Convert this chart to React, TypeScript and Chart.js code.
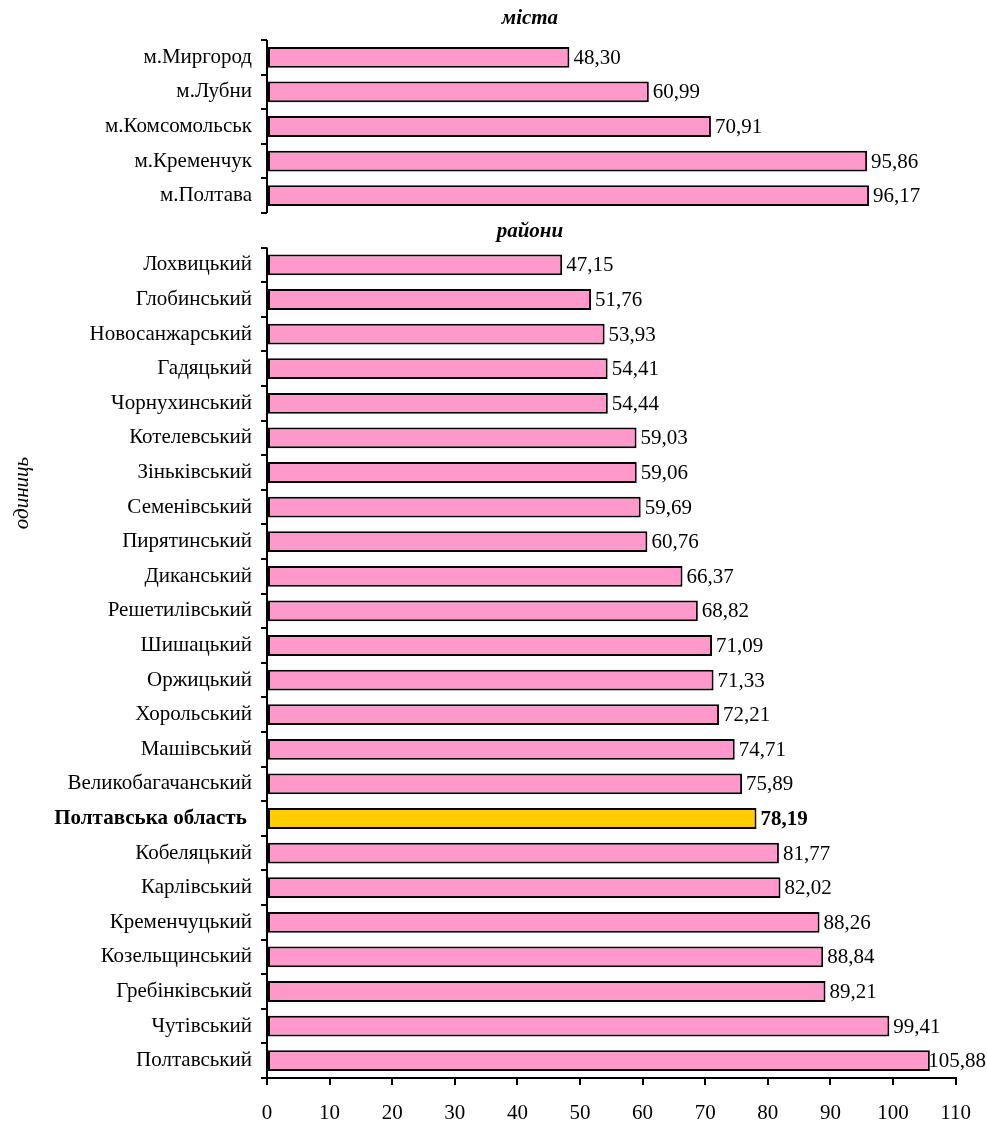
import React, { useEffect, useRef } from "react";
import { Chart, registerables } from "chart.js";

Chart.register(...registerables);

const cityLabels = ["м.Миргород", "м.Лубни", "м.Комсомольськ", "м.Кременчук", "м.Полтава"];
const cityValues = [48.3, 60.99, 70.91, 95.86, 96.17];

const districtLabels = [
  "Лохвицький", "Глобинський", "Новосанжарський", "Гадяцький", "Чорнухинський",
  "Котелевський", "Зіньківський", "Семенівський", "Пирятинський", "Диканський",
  "Решетилівський", "Шишацький", "Оржицький", "Хорольський", "Машівський",
  "Великобагачанський", "Полтавська область ", "Кобеляцький", "Карлівський",
  "Кременчуцький", "Козельщинський", "Гребінківський", "Чутівський", "Полтавський",
];
const districtValues = [
  47.15, 51.76, 53.93, 54.41, 54.44, 59.03, 59.06, 59.69, 60.76, 66.37,
  68.82, 71.09, 71.33, 72.21, 74.71, 75.89, 78.19, 81.77, 82.02, 88.26,
  88.84, 89.21, 99.41, 105.88,
];

const sectionTitles = ["міста", "райони"];
const axisTitle = "одиниць";
const highlightLabel = "Полтавська область ";
const xTicks = [0, 110, 10];

const FONT = "'Liberation Serif', 'Times New Roman', serif";
const FS = 21;
const PINK = "#FF99CC";
const GOLD = "#FFCC00";

export default function App() {
  const ref = useRef<HTMLCanvasElement | null>(null);
  useEffect(() => {
    const labels = [...cityLabels, "", ...districtLabels];
    const values: (number | null)[] = [...cityValues, null, ...districtValues];
    const colors = labels.map((l) => (l === highlightLabel ? GOLD : PINK));
    const gapIndex = cityLabels.length;

    const overlay = {
      id: "overlay",
      afterDatasetsDraw(chart: any) {
        const ctx = chart.ctx;
        const y = chart.scales.y;
        const x = chart.scales.x;
        const slot = y.getPixelForValue(1) - y.getPixelForValue(0);
        const left = chart.chartArea.left;
        ctx.save();
        ctx.strokeStyle = "#000";
        ctx.lineWidth = 2;
        const top1 = y.getPixelForValue(0) - slot / 2;
        const bot1 = y.getPixelForValue(gapIndex - 1) + slot / 2;
        const top2 = y.getPixelForValue(gapIndex + 1) - slot / 2;
        const bot2 = y.getPixelForValue(labels.length - 1) + slot / 2;
        ctx.beginPath();
        ctx.moveTo(left, top1);
        ctx.lineTo(left, bot1);
        ctx.moveTo(left, top2);
        ctx.lineTo(left, bot2);
        ctx.stroke();
        const meta = chart.getDatasetMeta(0);
        ctx.fillStyle = "#000";
        ctx.textBaseline = "middle";
        ctx.textAlign = "left";
        meta.data.forEach((bar: any, i: number) => {
          const v = values[i];
          if (v == null) return;
          const bold = labels[i] === highlightLabel;
          ctx.font = `${bold ? "bold " : ""}${FS}px ${FONT}`;
          const txt = v.toFixed(2).replace(".", ",");
          const w = ctx.measureText(txt).width;
          const tx = Math.min(bar.x + 4, chart.width - 1 - w);
          ctx.fillText(txt, tx, bar.y + 1);
        });
        ctx.font = `bold italic ${FS}px ${FONT}`;
        ctx.textAlign = "center";
        const cx = x.getPixelForValue(42);
        ctx.fillText(sectionTitles[0], cx, y.getPixelForValue(0) - slot - 4);
        ctx.fillText(sectionTitles[1], cx, y.getPixelForValue(gapIndex) + 1);
        ctx.font = `italic ${FS}px ${FONT}`;
        ctx.translate(22, 493);
        ctx.rotate(-Math.PI / 2);
        ctx.fillText(axisTitle, 0, 0);
        ctx.restore();
      },
    };

    const chart = new Chart(ref.current as HTMLCanvasElement, {
      type: "bar",
      data: {
        labels,
        datasets: [
          {
            data: values,
            backgroundColor: colors,
            borderColor: "#000",
            borderWidth: 2,
            borderSkipped: false,
            barPercentage: 0.6,
            categoryPercentage: 1,
          },
        ],
      },
      options: {
        indexAxis: "y",
        animation: false,
        responsive: true,
        maintainAspectRatio: false,
        layout: { padding: { top: 40, right: 29, left: 0, bottom: 0 } },
        plugins: { legend: { display: false }, tooltip: { enabled: false } },
        scales: {
          x: {
            min: xTicks[0],
            max: xTicks[1],
            ticks: {
              stepSize: xTicks[2],
              color: "#000",
              font: { family: FONT, size: FS },
              padding: 16,
              maxRotation: 0,
            },
            grid: {
              drawOnChartArea: false,
              drawTicks: true,
              tickLength: 7,
              color: "#000",
              lineWidth: 2,
            },
            border: { display: true, color: "#000", width: 2 },
            afterFit: (s: any) => {
              s.height = 45;
            },
          },
          y: {
            ticks: {
              color: "#000",
              font: (c: any) => ({
                family: FONT,
                size: FS,
                weight: labels[c.index] === highlightLabel ? "bold" : "normal",
              }),
              padding: 9,
              autoSkip: false,
            },
            grid: {
              offset: true,
              drawOnChartArea: false,
              drawTicks: true,
              tickLength: 6,
              color: "#000",
              lineWidth: 2,
            },
            border: { display: false },
            afterFit: (s: any) => {
              s.width = 267;
            },
          },
        },
      },
      plugins: [overlay],
    });
    return () => chart.destroy();
  }, []);

  return (
    <div style={{ position: "absolute", left: 0, top: 0, width: 987, height: 1123 }}>
      <canvas ref={ref} />
    </div>
  );
}
